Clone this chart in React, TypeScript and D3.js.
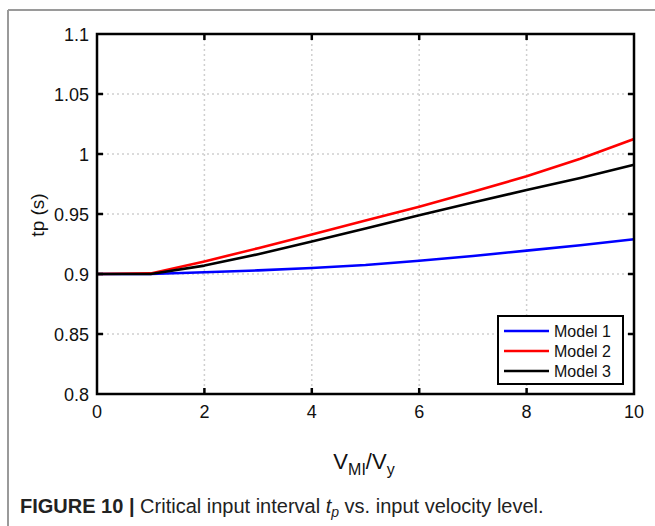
import React from "react";
import * as d3 from "d3";

const xValues = [0, 1, 2, 3, 4, 5, 6, 7, 8, 9, 10];
const model1 = [0.9, 0.9, 0.9015, 0.903, 0.905, 0.9075, 0.911, 0.915, 0.9195, 0.924, 0.929];
const model2 = [0.9, 0.9005, 0.9105, 0.9215, 0.933, 0.9445, 0.956, 0.9685, 0.9815, 0.996, 1.0125];
const model3 = [0.9, 0.9, 0.907, 0.9165, 0.927, 0.938, 0.949, 0.9595, 0.97, 0.98, 0.991];
const seriesNames = ["Model 1", "Model 2", "Model 3"];
const seriesColors = ["#0000ff", "#ff0000", "#000000"];
const xTicks = [0, 2, 4, 6, 8, 10];
const yTicks = [0.8, 0.85, 0.9, 0.95, 1, 1.05, 1.1];

const W = 655;
const H = 526;
const L = 97, R = 634, T = 34, B = 394;

export default function App() {
  const x = d3.scaleLinear().domain([0, 10]).range([L, R]);
  const y = d3.scaleLinear().domain([0.8, 1.1]).range([B, T]);
  const series = [model1, model2, model3];
  const line = d3
    .line<number>()
    .x((_, i) => x(xValues[i]))
    .y((d) => y(d))
    .curve(d3.curveLinear);
  const font = "'Liberation Sans', Arial, sans-serif";
  const legX = 498, legY = 316, legW = 125, legH = 68;
  return (
    <svg
      width={W}
      height={H}
      style={{ position: "absolute", left: 0, top: 0, background: "#fff" }}
      fontFamily={font}
    >
      <rect x={0} y={0} width={W} height={H} fill="#fff" />
      {/* outer border */}
      <line x1={8} y1={10} x2={W} y2={10} stroke="#9a9a9a" strokeWidth={2} />
      <line x1={8} y1={10} x2={8} y2={H} stroke="#9a9a9a" strokeWidth={2} />

      {/* grid */}
      {xTicks.slice(1, -1).map((t) => (
        <line key={"gx" + t} x1={x(t)} x2={x(t)} y1={T} y2={B} stroke="#cfcfcf" strokeWidth={1.5} strokeDasharray="2,3" />
      ))}
      {yTicks.slice(1, -1).map((t) => (
        <line key={"gy" + t} x1={L} x2={R} y1={y(t)} y2={y(t)} stroke="#cfcfcf" strokeWidth={1.5} strokeDasharray="2,3" />
      ))}

      {/* lines */}
      {series.map((s, i) => (
        <path key={"s" + i} d={line(s) || ""} fill="none" stroke={seriesColors[i]} strokeWidth={2.6} strokeLinejoin="round" />
      ))}

      {/* ticks */}
      {xTicks.slice(1, -1).map((t) => (
        <g key={"tx" + t}>
          <line x1={x(t)} x2={x(t)} y1={B} y2={B - 6} stroke="#000" strokeWidth={2.5} />
          <line x1={x(t)} x2={x(t)} y1={T} y2={T + 6} stroke="#000" strokeWidth={2.5} />
        </g>
      ))}
      {yTicks.slice(1, -1).map((t) => (
        <g key={"ty" + t}>
          <line x1={L} x2={L + 6} y1={y(t)} y2={y(t)} stroke="#000" strokeWidth={2.5} />
          <line x1={R} x2={R - 6} y1={y(t)} y2={y(t)} stroke="#000" strokeWidth={2.5} />
        </g>
      ))}
      {/* frame */}
      <rect x={L} y={T} width={R - L} height={B - T} fill="none" stroke="#000" strokeWidth={2.5} />

      {/* tick labels */}
      {xTicks.map((t) => (
        <text key={"lx" + t} x={x(t)} y={B + 24} textAnchor="middle" fontSize={18} fill="#111">
          {t}
        </text>
      ))}
      {yTicks.map((t) => (
        <text key={"ly" + t} x={L - 8} y={y(t) + 6.5} textAnchor="end" fontSize={18} fill="#111">
          {String(t)}
        </text>
      ))}

      {/* axis titles */}
      <text x={364} y={469} textAnchor="middle" fontSize={22} fill="#111">
        V<tspan fontSize={16} dy={6}>MI</tspan>
        <tspan fontSize={22} dy={-6}>/V</tspan>
        <tspan fontSize={16} dy={6}>y</tspan>
      </text>
      <text x={0} y={0} transform={`translate(44,215) rotate(-90)`} textAnchor="middle" fontSize={19} fill="#111">
        tp (s)
      </text>

      {/* legend */}
      <rect x={legX} y={legY} width={legW} height={legH} fill="#fff" stroke="#000" strokeWidth={2} />
      {seriesNames.map((n, i) => (
        <g key={"lg" + i}>
          <line x1={legX + 6} x2={legX + 51} y1={legY + 15 + i * 20} y2={legY + 15 + i * 20} stroke={seriesColors[i]} strokeWidth={2.6} />
          <text x={legX + 56} y={legY + 15 + i * 20 + 6} fontSize={16} fill="#111">
            {n}
          </text>
        </g>
      ))}

      {/* caption */}
      <text x={20} y={513} fontSize={20} fill="#222">
        <tspan fontWeight="bold">FIGURE 10 | </tspan>
        <tspan>Critical input interval </tspan>
        <tspan fontStyle="italic">t</tspan>
        <tspan fontStyle="italic" fontSize={14} dy={4}>p</tspan>
        <tspan dy={-4}> vs. input velocity level.</tspan>
      </text>
    </svg>
  );
}
